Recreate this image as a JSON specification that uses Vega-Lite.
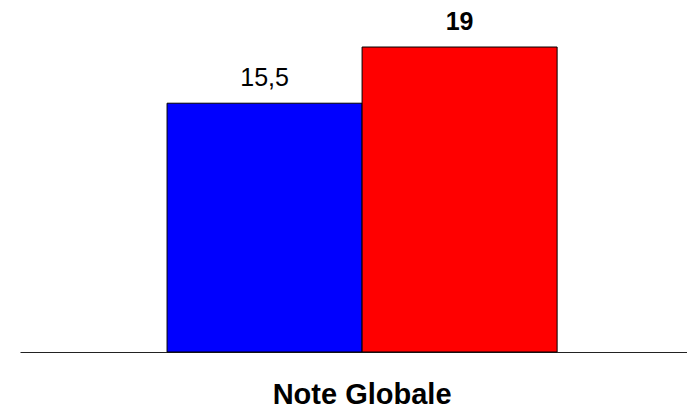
{
  "$schema": "https://vega.github.io/schema/vega-lite/v6.json",
  "width": 667,
  "height": 352,
  "autosize": {"type": "none"},
  "padding": {"left": 20, "top": 0, "right": 0, "bottom": 58},
  "background": "white",
  "config": {
    "view": {"stroke": null},
    "font": "Liberation Sans",
    "locale": {"number": {"decimal": ",", "thousands": ".", "grouping": [3], "currency": ["", " €"]}}
  },
  "data": {
    "values": [
      {"categorie": "Note Globale", "serie": "Série 1", "note": 15.5},
      {"categorie": "Note Globale", "serie": "Série 2", "note": 19}
    ]
  },
  "encoding": {
    "x": {
      "field": "categorie",
      "type": "nominal",
      "scale": {"paddingOuter": 0.355, "paddingInner": 0, "align": 0.531},
      "axis": {
        "title": null,
        "ticks": false,
        "domainColor": "#222222",
        "domainWidth": 1.2,
        "labelFont": "Liberation Sans",
        "labelFontSize": 29,
        "labelFontWeight": "bold",
        "labelColor": "black",
        "labelPadding": 28,
        "labelLimit": 600,
        "labelAngle": 0
      }
    },
    "xOffset": {"field": "serie", "type": "nominal", "scale": {"paddingInner": 0, "paddingOuter": 0}},
    "y": {
      "field": "note",
      "type": "quantitative",
      "scale": {"domain": [0, 21.93], "nice": false},
      "axis": null
    }
  },
  "layer": [
    {
      "mark": {"type": "bar", "stroke": "black", "strokeWidth": 1},
      "encoding": {
        "color": {
          "field": "serie",
          "type": "nominal",
          "scale": {"domain": ["Série 1", "Série 2"], "range": ["#0000FF", "#FF0000"]},
          "legend": null
        }
      }
    },
    {
      "transform": [{"filter": "datum.serie === 'Série 1'"}],
      "mark": {"type": "text", "baseline": "alphabetic", "dy": -17, "fontSize": 25, "color": "black"},
      "encoding": {"text": {"field": "note", "type": "quantitative", "format": ".1~f"}}
    },
    {
      "transform": [{"filter": "datum.serie === 'Série 2'"}],
      "mark": {"type": "text", "baseline": "alphabetic", "dy": -17, "fontSize": 25, "fontWeight": "bold", "color": "black"},
      "encoding": {"text": {"field": "note", "type": "quantitative", "format": ".1~f"}}
    }
  ]
}
